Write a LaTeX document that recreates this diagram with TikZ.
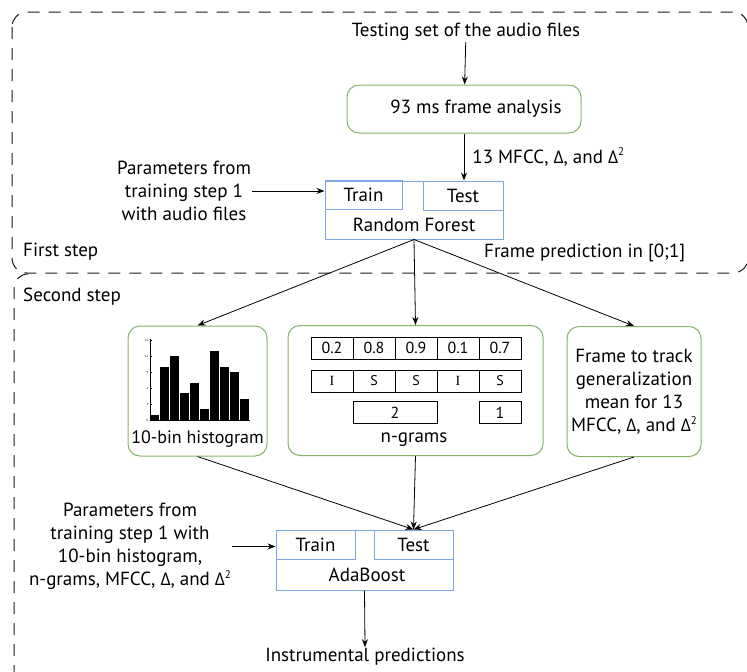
\documentclass[tikz,border=0pt]{standalone}
\usepackage{fontspec}
\setmainfont{PT Sans}
\newfontfamily\deltafont{Open Sans}
\newfontfamily\cellserif{Liberation Serif}
\usetikzlibrary{arrows.meta}
\definecolor{boxgreen}{HTML}{82B366}
\definecolor{boxblue}{HTML}{7EA6E0}
\definecolor{dashgray}{HTML}{1A1A1A}
\newcommand{\dlt}{{\deltafont\fontsize{17.5}{23}\selectfont Δ}}
\newcommand{\sqr}{\raisebox{0.75ex}{\fontsize{11}{11}\selectfont 2}}
\tikzset{
  greenbox/.style={shape=rectangle,draw=boxgreen,rounded corners=12pt,line width=1pt,align=center},
  bluebox/.style={shape=rectangle,draw=boxblue,line width=1pt,inner sep=0pt},
  cellbox/.style={shape=rectangle,draw=black,line width=0.8pt,inner sep=0pt,minimum width=42pt,minimum height=22pt,font=\fontsize{16}{18}\selectfont},
  arr/.style={-{Stealth[length=8pt,width=6pt]},draw=black,line width=0.8pt},
  steparea/.style={draw=dashgray,line width=1pt,dash pattern=on 12pt off 9pt},
  txt/.style={align=center,inner sep=1pt},
}

\begin{document}
\begin{tikzpicture}[x=1pt,y=-1pt,font=\fontsize{19}{23}\selectfont]
\useasboundingbox (0,0) rectangle (747,672);

% the two steps
\draw[steparea,rounded corners=15pt] (12,12) rectangle (748,273);
\draw[steparea,rounded corners=14pt] (28,274) -- (14,274) -- (14,700);
\node[txt,anchor=west] (first) at (22,252) {First step};
\node[txt,anchor=west] (second) at (22,297) {Second step};

% first step
\node[txt] (testing) at (466,32) {Testing set of the audio files};
\node[greenbox,minimum width=234pt,minimum height=48pt] (frame) at (464,109) {\hspace{24pt}93 ms frame analysis};
\node[bluebox,minimum width=178pt,minimum height=58pt] (rf) at (414,210) {};
\node[bluebox,minimum width=77pt,minimum height=29pt] (rftrain) at (363.5,195) {Train};
\node[bluebox,minimum width=80pt,minimum height=29pt] (rftest) at (463,195.5) {Test};
\node[txt] (rflabel) at (414,225) {Random Forest};
\node[txt] (params1) at (184,191) {Parameters from\\training step 1\\with audio files};
\node[txt,anchor=west] (framepred) at (483,253) {Frame prediction in [0;1]};

\draw[arr] (testing) -- (frame);
\draw[arr] (frame.south) -- node[txt,right=7pt] (mfcc) {13 MFCC, \dlt, and \dlt\sqr} (frame.south |- rftest.north);
\draw[arr] (params1.east) -- (params1.east -| rftrain.west);

% second step
\node[greenbox,minimum width=139pt,minimum height=130pt] (hist) at (197.5,391) {};
\node[greenbox,minimum width=255pt,minimum height=130pt] (ngram) at (415.5,390.5) {};
\node[greenbox,minimum width=134pt,minimum height=130pt] (track) at (634,391.5) {Frame to track\\generalization\\mean for 13\\MFCC, \dlt, and \dlt\sqr};

% histogram
\foreach \h [count=\i] in {1,10,12,5,7,2,13,10,9,4}
  \fill[black] (140+10*\i,420) rectangle ++(8.5,-16*\h/3);
\draw[line width=0.5pt] (150,339) -- (150,420) -- (250,420);
\foreach \v in {0,3,...,15} {
  \draw[line width=0.4pt] (150,420-16*\v/3) -- (152,420-16*\v/3);
  \node[anchor=east,inner sep=0.5pt,font=\fontsize{3}{3}\selectfont] (tick\v) at (149,420-16*\v/3) {\v};
}
\node[txt,font=\fontsize{18}{23}\selectfont] (histlabel) at (197.5,439) {10-bin histogram};

% n-grams
\foreach \v [count=\i] in {0.2,0.8,0.9,0.1,0.7}
  \node[cellbox] (g\i) at (290+42*\i,348) {\v};
\foreach \v [count=\i] in {{\cellserif I},S,S,{\cellserif I},S}
  \node[cellbox,font=\fontsize{14}{16}\selectfont] (s\i) at (290+42*\i,381) {\v};
\node[cellbox,minimum width=84pt] (n2) at (395,412.5) {2};
\node[cellbox] (n1) at (500,412.5) {1};
\node[txt] (ngramlabel) at (414,440) {n-grams};

\draw[arr] (rf.south) -- (hist.north);
\draw[arr] (rf.south) -- (ngram.north);
\draw[arr] (rf.south) -- (track.north);

% adaboost
\node[bluebox,minimum width=177pt,minimum height=60pt] (ada) at (364.5,560) {};
\node[bluebox,minimum width=79pt,minimum height=29pt] (adatrain) at (315.5,544.5) {Train};
\node[bluebox,minimum width=79pt,minimum height=29pt] (adatest) at (413.5,544.5) {Test};
\node[txt] (adalabel) at (367,575) {AdaBoost};
\node[txt] (params2) at (130,546.5) {Parameters from\\training step 1 with\\10-bin histogram,\\n-grams, MFCC, \dlt, and \dlt\sqr};
\node[txt] (output) at (365,657) {Instrumental predictions};

\draw[arr] (hist.south) -- (adatest.north);
\draw[arr] (ngram.south) -- (adatest.north);
\draw[arr] (track.south) -- (adatest.north);
\draw[arr] (params2.east) -- (params2.east -| adatrain.west);
\draw[arr] (ada.south) -- (output.north);
\end{tikzpicture}
\end{document}
